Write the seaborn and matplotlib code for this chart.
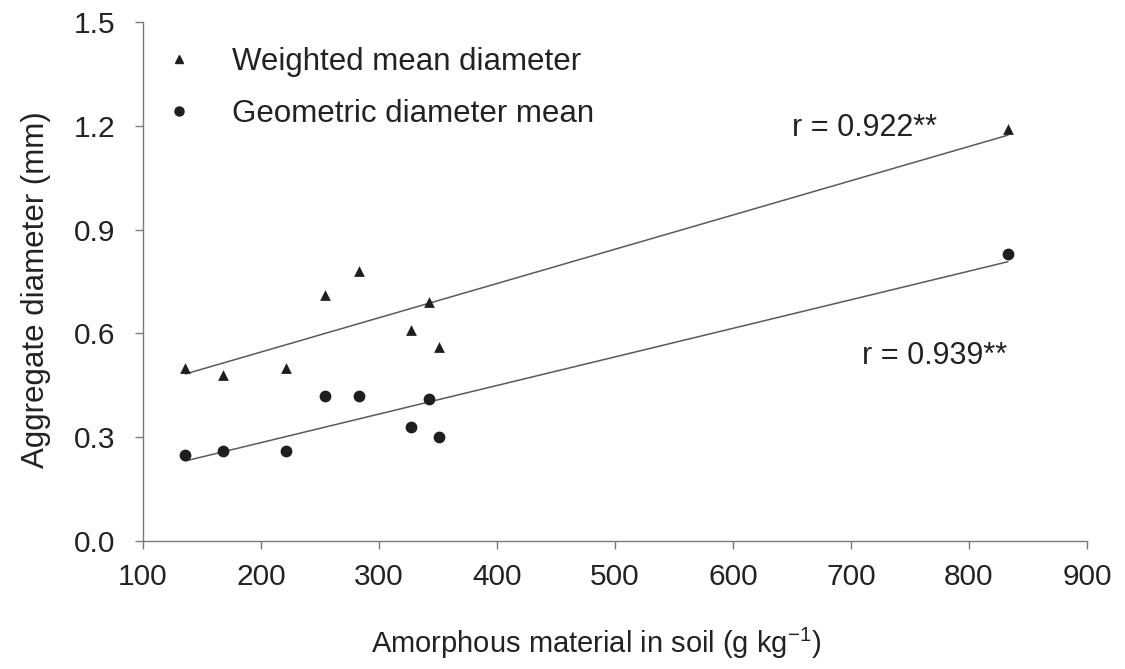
import numpy as np
import pandas as pd
import seaborn as sns
import matplotlib
matplotlib.use("Agg")
import matplotlib.pyplot as plt
from matplotlib.lines import Line2D

# ---- data ----
amorphous = [136, 168, 221, 254, 283, 327, 342, 351, 833]
weighted_mean = [0.50, 0.48, 0.50, 0.71, 0.78, 0.61, 0.69, 0.56, 1.19]
geometric_mean = [0.25, 0.26, 0.26, 0.42, 0.42, 0.33, 0.41, 0.30, 0.83]
series_names = ["Weighted mean diameter", "Geometric diameter mean"]
r_labels = ["r = 0.922**", "r = 0.939**"]
x_ticks = [100, 200, 300, 400, 500, 600, 700, 800, 900]
y_ticks = [0.0, 0.3, 0.6, 0.9, 1.2, 1.5]

df = pd.DataFrame({"x": amorphous, "wmd": weighted_mean, "gmd": geometric_mean})

sns.set_theme(style="ticks")
plt.rcParams["font.family"] = ["Liberation Sans", "DejaVu Sans"]
plt.rcParams["mathtext.default"] = "regular"

fig = plt.figure(figsize=(11.25, 6.69), dpi=100)
ax = fig.add_axes([0.1271, 0.1913, 0.8391, 0.7758])

mk_color = "#1e1e1e"
line_color = "#5a5a5a"
txt_color = "#222222"

for col, mk in (("wmd", "^"), ("gmd", "o")):
    sns.regplot(data=df, x="x", y=col, ax=ax, ci=None, truncate=True,
                scatter=False, line_kws=dict(color=line_color, lw=1.1))
    sns.scatterplot(data=df, x="x", y=col, ax=ax, marker=mk, s=60 if mk == "^" else 72,
                    color=mk_color, edgecolor=mk_color, linewidth=0, zorder=3)

ax.set_xlim(100, 900)
ax.set_ylim(0, 1.5)
ax.set_xticks(x_ticks)
ax.set_yticks(y_ticks)
ax.set_yticklabels([f"{v:.1f}" for v in y_ticks])
ax.tick_params(axis="both", labelsize=21.5, colors="#7a7a7a", labelcolor=txt_color,
               length=6, width=1, direction="out")
ax.tick_params(axis="y", pad=14)
ax.tick_params(axis="x", pad=10)
for s in ("top", "right"):
    ax.spines[s].set_visible(False)
for s in ("left", "bottom"):
    ax.spines[s].set_color("#7a7a7a")
    ax.spines[s].set_linewidth(1.0)

ax.set_xlabel("Amorphous material in soil (g kg$^{-1}$)", fontsize=21, color=txt_color)
ax.xaxis.set_label_coords(0.48, -0.163)
ax.set_ylabel("Aggregate diameter (mm)", fontsize=22.5, color=txt_color)
ax.yaxis.set_label_coords(-0.097, 0.484)

handles = [
    Line2D([], [], ls="none", marker="^", color=mk_color, markersize=5.5),
    Line2D([], [], ls="none", marker="o", color=mk_color, markersize=6.5),
]
leg = ax.legend(handles, series_names, loc="upper left", bbox_to_anchor=(-0.0085, 1.007),
                frameon=False, fontsize=22.5, handletextpad=1.2, labelspacing=0.72,
                handlelength=1.0, labelcolor=txt_color)

ax.text(650, 1.193, r_labels[0], fontsize=22, color=txt_color, va="center", ha="left")
ax.text(709, 0.534, r_labels[1], fontsize=22, color=txt_color, va="center", ha="left")

fig.savefig("out.png", dpi=100, facecolor="white")
